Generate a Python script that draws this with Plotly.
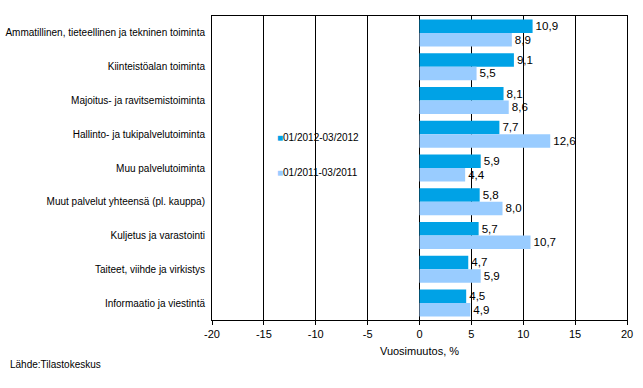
import plotly.graph_objects as go

categories = [
    "Ammatillinen, tieteellinen ja tekninen toiminta",
    "Kiinteistöalan toiminta",
    "Majoitus- ja ravitsemistoiminta",
    "Hallinto- ja tukipalvelutoiminta",
    "Muu palvelutoiminta",
    "Muut palvelut yhteensä (pl. kauppa)",
    "Kuljetus ja varastointi",
    "Taiteet, viihde ja virkistys",
    "Informaatio ja viestintä",
]
series_2012 = [10.9, 9.1, 8.1, 7.7, 5.9, 5.8, 5.7, 4.7, 4.5]
series_2011 = [8.9, 5.5, 8.6, 12.6, 4.4, 8.0, 10.7, 5.9, 4.9]
name_2012 = "01/2012-03/2012"
name_2011 = "01/2011-03/2011"
x_ticks = [-20, -15, -10, -5, 0, 5, 10, 15, 20]

c_dark = "#00A2E6"
c_light = "#99CCFF"
font_family = "Liberation Sans, Arial, sans-serif"

fig = go.Figure()
fig.add_trace(go.Bar(
    y=categories, x=series_2012, orientation="h", name=name_2012,
    marker=dict(color=c_dark, line=dict(width=0)),
    texttemplate="%{x:.1f}", textposition="outside",
    textfont=dict(size=12, color="black", family=font_family),
    cliponaxis=False, showlegend=False,
))
fig.add_trace(go.Bar(
    y=categories, x=series_2011, orientation="h", name=name_2011,
    marker=dict(color=c_light, line=dict(width=0)),
    texttemplate="%{x:.1f}", textposition="outside",
    textfont=dict(size=12, color="black", family=font_family),
    cliponaxis=False, showlegend=False,
))

legend_items = [(name_2012, c_dark, 0.60), (name_2011, c_light, 0.485)]
annotations = [
    dict(text=f'<span style="color:{c}">■</span>{n}', xref="paper", yref="paper",
         x=0.152, y=yy, xanchor="left", yanchor="middle", showarrow=False,
         font=dict(size=10))
    for n, c, yy in legend_items
]
annotations.append(dict(
    text="Lähde:Tilastokeskus", xref="paper", yref="paper",
    x=-204/415, y=-0.148, xanchor="left", yanchor="middle",
    showarrow=False, font=dict(size=10),
))

fig.update_layout(
    width=643, height=388,
    margin=dict(l=212, r=16, t=16, b=68, autoexpand=False),
    paper_bgcolor="white", plot_bgcolor="white",
    separators=", ",
    barmode="group", bargap=0.2, bargroupgap=0,
    font=dict(family=font_family, size=10, color="black"),
    showlegend=False,
    hovermode=False,
    xaxis=dict(
        range=[-20, 20], tickvals=x_ticks, ticktext=[str(v) for v in x_ticks],
        automargin=False,
        showgrid=True, gridcolor="black", gridwidth=1,
        zeroline=True, zerolinecolor="black", zerolinewidth=1,
        showline=True, linecolor="black", linewidth=1, mirror=True,
        ticks="outside", ticklen=4, tickcolor="black",
        tickfont=dict(size=11),
        title=dict(text="Vuosimuutos, %", font=dict(size=11), standoff=8),
    ),
    yaxis=dict(
        autorange="reversed", automargin=False,
        showline=True, linecolor="black", linewidth=1, mirror=True,
        ticks="", ticklabelstandoff=4,
        tickfont=dict(size=10),
        showgrid=False,
    ),
    annotations=annotations,
)

fig.write_html("out.html", config={"displayModeBar": False},
               post_script="document.body.style.margin='0';")
